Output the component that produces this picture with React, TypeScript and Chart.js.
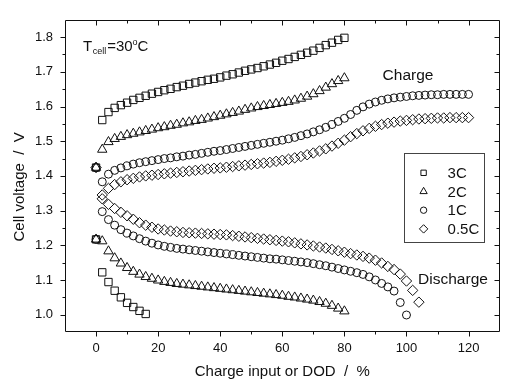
import React, { useEffect, useRef } from "react";
import { Chart, registerables } from "chart.js";
import { drawPoint } from "chart.js/helpers";

Chart.register(...registerables);

const FONT = '"Liberation Sans", Arial, sans-serif';

// ---- data (x = charge input or DOD in %, y = cell voltage in V) ----
const x0to80 = [0, 2, 4, 6, 8, 10, 12, 14, 16, 18, 20, 22, 24, 26, 28, 30, 32, 34, 36, 38, 40, 42, 44, 46, 48, 50, 52, 54, 56, 58, 60, 62, 64, 66, 68, 70, 72, 74, 76, 78, 80];
const x0to120 = [0, 2, 4, 6, 8, 10, 12, 14, 16, 18, 20, 22, 24, 26, 28, 30, 32, 34, 36, 38, 40, 42, 44, 46, 48, 50, 52, 54, 56, 58, 60, 62, 64, 66, 68, 70, 72, 74, 76, 78, 80, 82, 84, 86, 88, 90, 92, 94, 96, 98, 100, 102, 104, 106, 108, 110, 112, 114, 116, 118, 120];
const x0to16 = [0, 2, 4, 6, 8, 10, 12, 14, 16];
const x0to100 = [0, 2, 4, 6, 8, 10, 12, 14, 16, 18, 20, 22, 24, 26, 28, 30, 32, 34, 36, 38, 40, 42, 44, 46, 48, 50, 52, 54, 56, 58, 60, 62, 64, 66, 68, 70, 72, 74, 76, 78, 80, 82, 84, 86, 88, 90, 92, 94, 96, 98, 100];
const x2to104 = [2, 4, 6, 8, 10, 12, 14, 16, 18, 20, 22, 24, 26, 28, 30, 32, 34, 36, 38, 40, 42, 44, 46, 48, 50, 52, 54, 56, 58, 60, 62, 64, 66, 68, 70, 72, 74, 76, 78, 80, 82, 84, 86, 88, 90, 92, 94, 96, 98, 100, 102, 104];

const charge3C = [1.424, 1.561, 1.584, 1.596, 1.604, 1.611, 1.619, 1.625, 1.631, 1.637, 1.642, 1.647, 1.651, 1.656, 1.660, 1.665, 1.669, 1.673, 1.677, 1.680, 1.684, 1.689, 1.693, 1.698, 1.703, 1.707, 1.711, 1.716, 1.721, 1.726, 1.732, 1.737, 1.743, 1.749, 1.755, 1.761, 1.769, 1.777, 1.784, 1.792, 1.798];
const charge2C = [1.424, 1.476, 1.498, 1.507, 1.513, 1.518, 1.522, 1.526, 1.530, 1.534, 1.538, 1.541, 1.545, 1.548, 1.552, 1.555, 1.559, 1.562, 1.566, 1.570, 1.574, 1.578, 1.582, 1.586, 1.591, 1.595, 1.599, 1.602, 1.605, 1.608, 1.611, 1.614, 1.618, 1.623, 1.629, 1.636, 1.645, 1.655, 1.665, 1.674, 1.682];
const charge1C = [1.424, 1.383, 1.405, 1.416, 1.423, 1.429, 1.434, 1.438, 1.441, 1.444, 1.447, 1.450, 1.452, 1.455, 1.457, 1.460, 1.462, 1.465, 1.468, 1.471, 1.473, 1.476, 1.479, 1.482, 1.485, 1.488, 1.491, 1.494, 1.497, 1.500, 1.503, 1.507, 1.511, 1.516, 1.521, 1.527, 1.533, 1.540, 1.548, 1.557, 1.566, 1.577, 1.589, 1.599, 1.607, 1.613, 1.618, 1.622, 1.625, 1.627, 1.629, 1.631, 1.632, 1.633, 1.634, 1.634, 1.635, 1.635, 1.635, 1.635, 1.635];
const charge05C = [1.424, 1.345, 1.364, 1.375, 1.383, 1.389, 1.393, 1.397, 1.400, 1.402, 1.404, 1.406, 1.408, 1.410, 1.412, 1.414, 1.416, 1.418, 1.420, 1.422, 1.423, 1.425, 1.427, 1.429, 1.431, 1.433, 1.435, 1.437, 1.439, 1.442, 1.445, 1.448, 1.452, 1.456, 1.461, 1.466, 1.472, 1.478, 1.486, 1.494, 1.503, 1.513, 1.522, 1.530, 1.537, 1.543, 1.548, 1.552, 1.555, 1.558, 1.560, 1.562, 1.564, 1.565, 1.566, 1.567, 1.567, 1.568, 1.568, 1.568, 1.568];

const discharge3C = [1.217, 1.122, 1.094, 1.069, 1.050, 1.034, 1.022, 1.011, 1.002];
const discharge2C = [1.217, 1.212, 1.183, 1.163, 1.148, 1.135, 1.124, 1.116, 1.109, 1.104, 1.099, 1.095, 1.092, 1.089, 1.087, 1.085, 1.083, 1.081, 1.079, 1.077, 1.075, 1.073, 1.071, 1.069, 1.067, 1.065, 1.063, 1.061, 1.059, 1.057, 1.055, 1.052, 1.050, 1.047, 1.044, 1.041, 1.037, 1.032, 1.026, 1.018, 1.010];
const discharge1C = [1.217, 1.297, 1.274, 1.258, 1.245, 1.235, 1.227, 1.219, 1.212, 1.206, 1.201, 1.197, 1.194, 1.191, 1.189, 1.187, 1.185, 1.183, 1.181, 1.179, 1.177, 1.175, 1.173, 1.171, 1.169, 1.167, 1.165, 1.163, 1.161, 1.160, 1.158, 1.156, 1.154, 1.152, 1.150, 1.147, 1.144, 1.141, 1.137, 1.133, 1.129, 1.125, 1.121, 1.116, 1.109, 1.100, 1.090, 1.080, 1.068, 1.035, 0.999];
const discharge05C = [1.334, 1.318, 1.306, 1.295, 1.285, 1.275, 1.265, 1.258, 1.252, 1.247, 1.244, 1.241, 1.239, 1.237, 1.236, 1.235, 1.234, 1.233, 1.232, 1.231, 1.230, 1.228, 1.226, 1.224, 1.222, 1.220, 1.218, 1.216, 1.214, 1.212, 1.210, 1.207, 1.204, 1.201, 1.198, 1.195, 1.192, 1.188, 1.184, 1.180, 1.176, 1.172, 1.168, 1.163, 1.157, 1.149, 1.139, 1.130, 1.117, 1.097, 1.070, 1.036];

const rateLabels = ["3C", "2C", "1C", "0.5C"];
const rateStyles = ["rect", "triangle", "circle", "rectRot"];
const rateRadius = [5.2, 5.4, 4.0, 5.2];
const legendRadius = [3.8, 4.2, 3.2, 4.2];

const xMajorTicks = [0, 20, 40, 60, 80, 100, 120];
const xMinorTicks = [10, 30, 50, 70, 90, 110];
const yMajorTicks = [1.0, 1.1, 1.2, 1.3, 1.4, 1.5, 1.6, 1.7, 1.8];
const yMinorTicks = [1.05, 1.15, 1.25, 1.35, 1.45, 1.55, 1.65, 1.75];

const pts = (xs: number[], ys: number[]) => xs.map((x, i) => ({ x, y: ys[i] }));

const seriesList = [
  { rate: 0, data: pts(x0to80, charge3C) },
  { rate: 1, data: pts(x0to80, charge2C) },
  { rate: 2, data: pts(x0to120, charge1C) },
  { rate: 3, data: pts(x0to120, charge05C) },
  { rate: 0, data: pts(x0to16, discharge3C) },
  { rate: 1, data: pts(x0to80, discharge2C) },
  { rate: 2, data: pts(x0to100, discharge1C) },
  { rate: 3, data: pts(x2to104, discharge05C) },
];

const INK = "#111";

const decorPlugin = {
  id: "decor",
  afterDraw(chart: any) {
    const ctx: CanvasRenderingContext2D = chart.ctx;
    const { left, right, top, bottom } = chart.chartArea;
    const xs = chart.scales.x;
    const ys = chart.scales.y;
    const L = Math.round(left) + 0.5;
    const R = Math.round(right) - 0.5;
    const T = Math.round(top) + 0.5;
    const B = Math.round(bottom) - 0.5;
    ctx.save();
    ctx.strokeStyle = INK;
    ctx.lineWidth = 1;
    ctx.beginPath();
    ctx.rect(L, T, R - L, B - T);
    // x ticks: bottom outward, top inward
    const xt = (v: number, len: number) => {
      const p = Math.round(xs.getPixelForValue(v)) + 0.5;
      ctx.moveTo(p, B);
      ctx.lineTo(p, B + len);
      ctx.moveTo(p, T);
      ctx.lineTo(p, T + len);
    };
    xMajorTicks.forEach((v) => xt(v, 5));
    xMinorTicks.forEach((v) => xt(v, 3));
    const yt = (v: number, len: number) => {
      const p = Math.round(ys.getPixelForValue(v)) + 0.5;
      ctx.moveTo(L, p);
      ctx.lineTo(L - len, p);
      ctx.moveTo(R, p);
      ctx.lineTo(R - len, p);
    };
    yMajorTicks.forEach((v) => yt(v, 5));
    yMinorTicks.forEach((v) => yt(v, 3));
    ctx.stroke();

    ctx.fillStyle = INK;
    // y axis title
    ctx.save();
    ctx.translate(left - 45, (top + bottom) / 2 + 11);
    ctx.rotate(-Math.PI / 2);
    ctx.font = `15px ${FONT}`;
    ctx.textAlign = "center";
    ctx.textBaseline = "middle";
    ctx.fillText("Cell voltage  /  V", 0, 0);
    ctx.restore();

    // T_cell annotation
    ctx.textBaseline = "alphabetic";
    ctx.textAlign = "left";
    let tx = left + 18;
    const ty = top + 31;
    ctx.font = `15px ${FONT}`;
    ctx.fillText("T", tx, ty);
    tx += ctx.measureText("T").width + 0.5;
    ctx.font = `9px ${FONT}`;
    ctx.fillText("cell", tx, ty + 3);
    tx += ctx.measureText("cell").width + 1;
    ctx.font = `15px ${FONT}`;
    ctx.fillText("=30", tx, ty);
    tx += ctx.measureText("=30").width;
    ctx.font = `9px ${FONT}`;
    ctx.fillText("o", tx, ty - 6);
    tx += ctx.measureText("o").width;
    ctx.font = `15px ${FONT}`;
    ctx.fillText("C", tx, ty);

    // Charge / Discharge labels
    ctx.font = `15.5px ${FONT}`;
    ctx.textAlign = "center";
    ctx.textBaseline = "middle";
    ctx.fillText("Charge", left + 343, top + 56);
    ctx.fillText("Discharge", left + 388, top + 260);

    // legend box
    const bx0 = Math.round(right) - 96 + 0.5;
    const bx1 = Math.round(right) - 16 + 0.5;
    const by0 = Math.round(top) + 133 + 0.5;
    const by1 = Math.round(top) + 222 + 0.5;
    ctx.fillStyle = "#fff";
    ctx.fillRect(bx0, by0, bx1 - bx0, by1 - by0);
    ctx.strokeStyle = "#444";
    ctx.strokeRect(bx0, by0, bx1 - bx0, by1 - by0);
    ctx.font = `15px ${FONT}`;
    ctx.textAlign = "left";
    ctx.textBaseline = "middle";
    rateLabels.forEach((lab, i) => {
      const yy = top + 153 + i * 18.7;
      ctx.strokeStyle = INK;
      ctx.fillStyle = "rgba(0,0,0,0)";
      ctx.lineWidth = 1;
      drawPoint(ctx, { pointStyle: rateStyles[i], radius: legendRadius[i], rotation: 0, borderWidth: 1 } as any, right - 76, yy);
      ctx.fillStyle = INK;
      ctx.fillText(lab, right - 52, yy + 1);
    });
    ctx.restore();
  },
};

export default function App() {
  const ref = useRef<HTMLCanvasElement | null>(null);
  useEffect(() => {
    document.body.style.margin = "0";
    const canvas = ref.current!;
    const chart = new Chart(canvas, {
      type: "scatter",
      data: {
        datasets: seriesList.map((s, i) => ({
          label: rateLabels[s.rate] + (i < 4 ? " charge" : " discharge"),
          data: s.data,
          showLine: false,
          pointStyle: rateStyles[s.rate] as any,
          pointRadius: rateRadius[s.rate],
          pointBorderWidth: 1,
          pointBorderColor: INK,
          pointBackgroundColor: "rgba(0,0,0,0)",
          borderColor: INK,
          backgroundColor: "rgba(0,0,0,0)",
        })),
      },
      options: {
        responsive: false,
        animation: false,
        events: [],
        layout: { padding: { left: 0, right: 2, top: 7, bottom: 0 } },
        plugins: { legend: { display: false }, tooltip: { enabled: false } },
        scales: {
          x: {
            type: "linear",
            min: -10,
            max: 130,
            grid: { display: false, drawTicks: false },
            border: { display: false },
            afterBuildTicks: (s: any) => {
              s.ticks = xMajorTicks.map((v) => ({ value: v }));
            },
            afterFit: (s: any) => {
              s.height = 53;
            },
            ticks: {
              padding: 9,
              color: INK,
              autoSkip: false,
              maxRotation: 0,
              font: { family: FONT, size: 13 },
              callback: (v: any) => String(v),
            },
            title: {
              display: true,
              text: "Charge input or DOD  /  %",
              color: INK,
              font: { family: FONT, size: 15 },
              padding: { top: 0, bottom: 4 },
            },
          },
          y: {
            type: "linear",
            min: 0.95,
            max: 1.85,
            grid: { display: false, drawTicks: false },
            border: { display: false },
            afterBuildTicks: (s: any) => {
              s.ticks = yMajorTicks.map((v) => ({ value: v }));
            },
            afterFit: (s: any) => {
              s.width = 65;
            },
            ticks: {
              padding: 12,
              color: INK,
              autoSkip: false,
              font: { family: FONT, size: 13 },
              callback: (v: any) => Number(v).toFixed(1),
            },
          },
        },
      },
      plugins: [decorPlugin],
    });
    return () => chart.destroy();
  }, []);
  return (
    <div style={{ width: 506, height: 385, background: "#fff" }}>
      <canvas ref={ref} width={506} height={385} style={{ display: "block" }} />
    </div>
  );
}
